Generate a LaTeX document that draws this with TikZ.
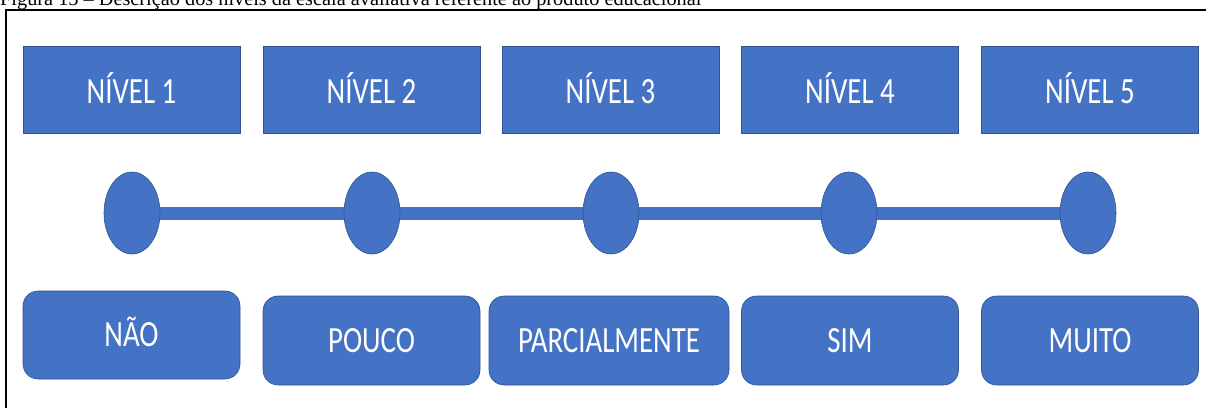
\documentclass[tikz,border=0pt]{standalone}
\usepackage{fontspec}
\setmainfont{Liberation Serif}
\newfontfamily\boxfont[FakeStretch=0.78]{Carlito}
\usetikzlibrary{shapes.geometric,backgrounds}
\definecolor{officeblue}{HTML}{4472C4}
\definecolor{officeedge}{HTML}{2F528F}
\begin{document}
\begin{tikzpicture}[x=1pt,y=-1pt,
    level/.style={fill=officeblue, draw=officeedge, line width=0.6pt,
        minimum width=217pt, minimum height=87pt, inner sep=0pt, text=white,
        font=\boxfont\fontsize{37}{37}\selectfont, text height=28.8pt, text depth=0pt},
    answer/.style={level, rounded corners=15pt, minimum height=89pt, text height=23.8pt},
    dot/.style={ellipse, fill=officeblue, draw=officeedge, line width=0.6pt,
        minimum width=56pt, minimum height=82pt, inner sep=0pt}]
        \useasboundingbox (0,0) rectangle (1206,407);
        \clip (0,0) rectangle (1206,407);
        \coordinate (lu) at (6,420);
        \coordinate (ro) at (1220,10);
        \draw[line width=2pt] (lu) |- (ro);
        \node[anchor=base west, inner sep=0pt, font=\fontsize{20.3}{20.3}\selectfont] (caption) at (0,5.5)
            {Figura 15 -- Descrição dos níveis da escala avaliativa referente ao produto educacional};
        % levels
        \node[level] (lvl1) at (131.5,89.5) {NÍVEL 1};
        \node[level] (lvl2) at (371.5,89.5) {NÍVEL 2};
        \node[level] (lvl3) at (610.5,89.5) {NÍVEL 3};
        \node[level] (lvl4) at (850,89.5) {NÍVEL 4};
        \node[level] (lvl5) at (1090,89.5) {NÍVEL 5};
        % scale
        \node[dot] (dot1) at (132,213) {};
        \node[dot] (dot2) at (372,213) {};
        \node[dot] (dot3) at (611,213) {};
        \node[dot] (dot4) at (849,213) {};
        \node[dot] (dot5) at (1088,213) {};
        \begin{scope}[on background layer]
            \draw[officeblue, line width=13pt] (dot1.center) -- (dot5.center);
        \end{scope}
        % answers
        \node[answer, minimum height=88pt] (ans1) at (131.5,335) {NÃO};
        \node[answer] (ans2) at (371.5,340.5) {POUCO};
        \node[answer, minimum width=240pt] (ans3) at (609,340.5) {PARCIALMENTE};
        \node[answer] (ans4) at (850,340.5) {SIM};
        \node[answer] (ans5) at (1090,340.5) {MUITO};
    \end{tikzpicture}
\end{document}
